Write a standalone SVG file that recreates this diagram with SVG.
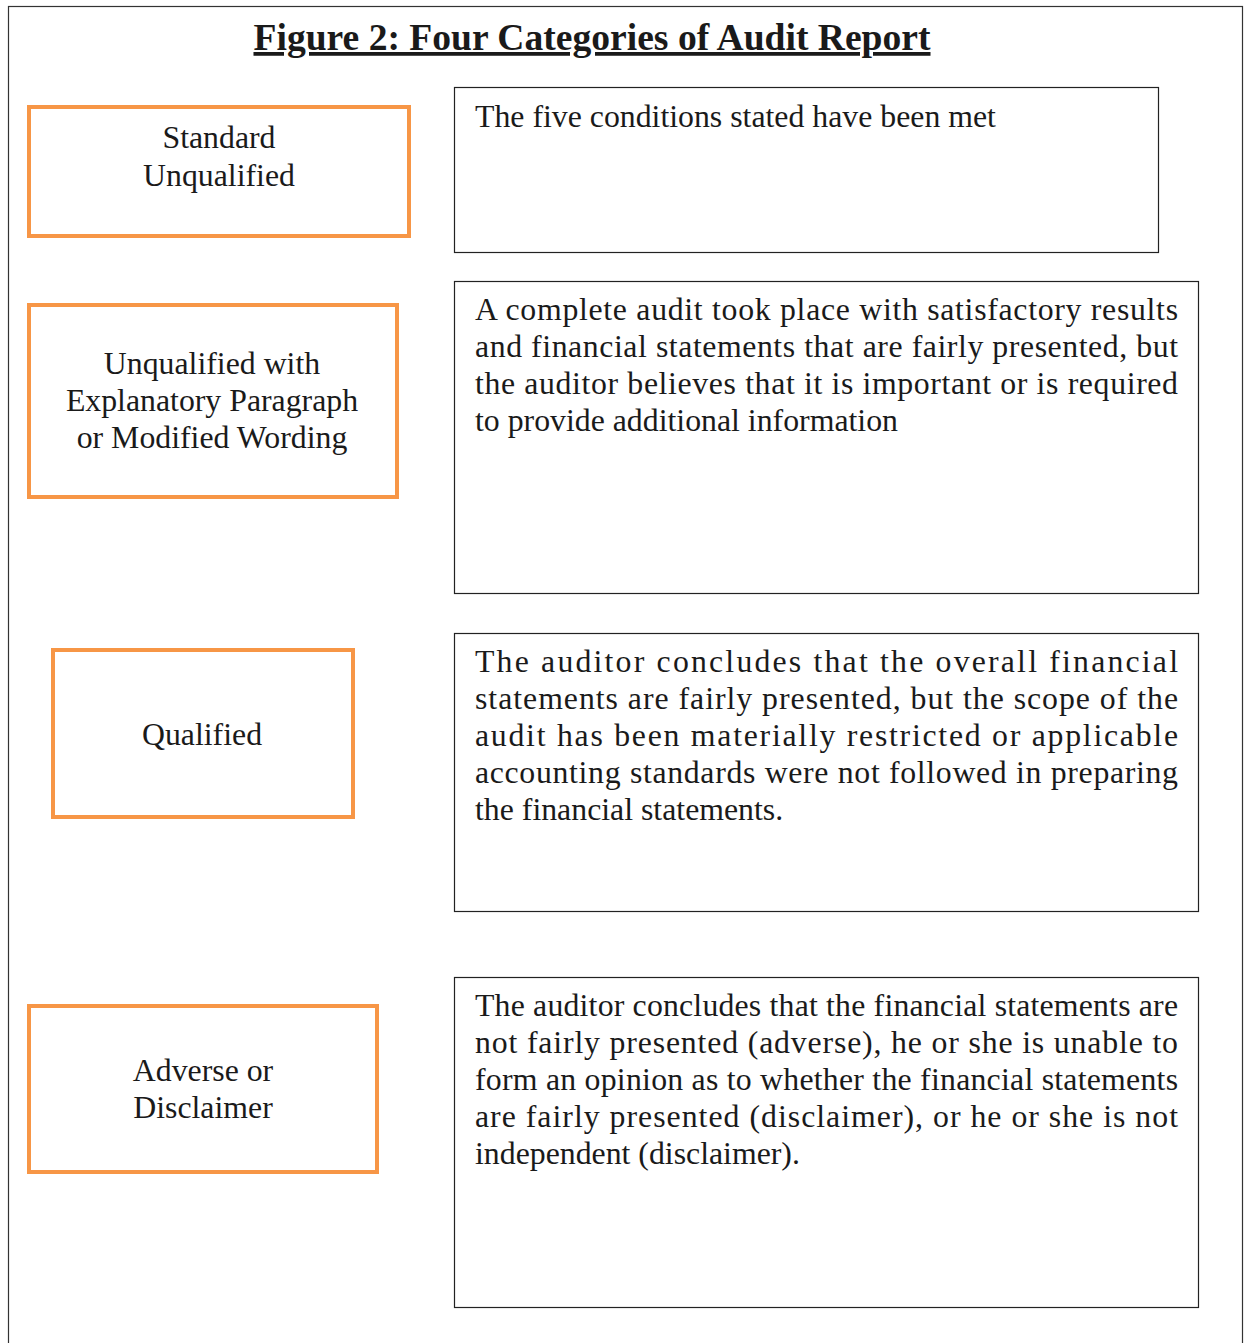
<svg xmlns="http://www.w3.org/2000/svg" width="1244" height="1343" viewBox="0 0 1244 1343">
<style>
.frame{fill:#fff;stroke:#333;stroke-width:1.2}
.cat{fill:#fff;stroke:#F79646;stroke-width:4}
.desc{fill:#fff;stroke:#222;stroke-width:1.2}
text{font-family:"Liberation Serif","Times New Roman",serif;fill:#1a1a1a;font-size:31.8px}
.lbl{text-anchor:middle}
.title{font-weight:bold;font-size:37.6px;text-anchor:middle;text-decoration:underline}
</style>
<rect x="0" y="0" width="1244" height="1343" fill="#fff"/>
<rect class="frame" x="8.5" y="6.5" width="1234" height="1345"/>
<text class="title" x="592" y="50">Figure 2: Four Categories of Audit Report</text>
<g id="connectors"></g>
<g id="cat1"><rect class="cat" x="29" y="107" width="380" height="129"/>
<text class="lbl" x="219" y="148">Standard</text><text class="lbl" x="219" y="186">Unqualified</text></g>
<g id="cat2"><rect class="cat" x="29" y="305" width="368" height="192"/>
<text class="lbl" x="212" y="374">Unqualified with</text><text class="lbl" x="212" y="411">Explanatory Paragraph</text><text class="lbl" x="212" y="448">or Modified Wording</text></g>
<g id="cat3"><rect class="cat" x="53" y="650" width="300" height="167"/>
<text class="lbl" x="202" y="745">Qualified</text></g>
<g id="cat4"><rect class="cat" x="29" y="1006" width="348" height="166"/>
<text class="lbl" x="203" y="1081">Adverse or</text><text class="lbl" x="203" y="1118">Disclaimer</text></g>
<g id="desc1"><rect class="desc" x="454.5" y="87.5" width="704" height="165"/>
<text x="475" y="127">The five conditions stated have been met</text></g>
<g id="desc2"><rect class="desc" x="454.5" y="281.5" width="744" height="312"/>
<text x="475" y="320" textLength="703" lengthAdjust="spacing">A complete audit took place with satisfactory results</text>
<text x="475" y="357" textLength="703" lengthAdjust="spacing">and financial statements that are fairly presented, but</text>
<text x="475" y="394" textLength="703" lengthAdjust="spacing">the auditor believes that it is important or is required</text>
<text x="475" y="431">to provide additional information</text></g>
<g id="desc3"><rect class="desc" x="454.5" y="633.5" width="744" height="278"/>
<text x="475" y="672" textLength="703" lengthAdjust="spacing">The auditor concludes that the overall financial</text>
<text x="475" y="709" textLength="703" lengthAdjust="spacing">statements are fairly presented, but the scope of the</text>
<text x="475" y="746" textLength="703" lengthAdjust="spacing">audit has been materially restricted or applicable</text>
<text x="475" y="783" textLength="703" lengthAdjust="spacing">accounting standards were not followed in preparing</text>
<text x="475" y="820">the financial statements.</text></g>
<g id="desc4"><rect class="desc" x="454.5" y="977.5" width="744" height="330"/>
<text x="475" y="1016" textLength="703" lengthAdjust="spacing">The auditor concludes that the financial statements are</text>
<text x="475" y="1053" textLength="703" lengthAdjust="spacing">not fairly presented (adverse), he or she is unable to</text>
<text x="475" y="1090" textLength="703" lengthAdjust="spacing">form an opinion as to whether the financial statements</text>
<text x="475" y="1127" textLength="703" lengthAdjust="spacing">are fairly presented (disclaimer), or he or she is not</text>
<text x="475" y="1164">independent (disclaimer).</text></g>
</svg>
